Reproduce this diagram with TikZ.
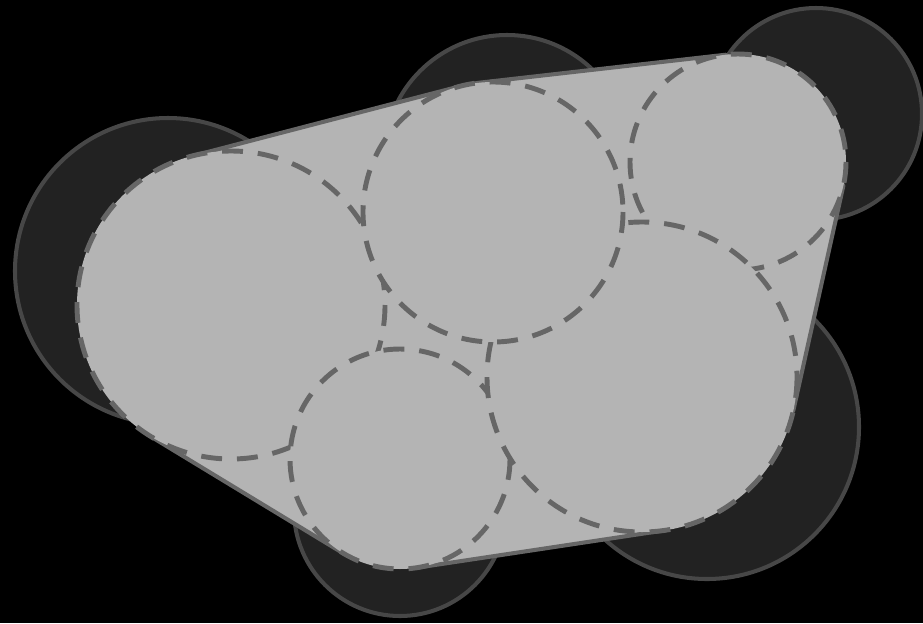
\documentclass[tikz,border=0pt]{standalone}
\usepackage{tikz}
\definecolor{backdrop}{HTML}{000000}
\definecolor{discfill}{HTML}{222222}
\definecolor{discedge}{HTML}{474747}
\definecolor{hullfill}{HTML}{B4B4B4}
\definecolor{hulledge}{HTML}{666666}
\tikzset{
  outerdisc/.style={fill=discfill, draw=discedge, line width=2.3pt},
  hullpoly/.style={fill=hullfill, draw=hulledge, line width=2.3pt, line join=round},
  innerdisc/.style={fill=hullfill, draw=hulledge, line width=2.8pt,
    dash pattern=on 11.9pt off 8.5pt}
}

\begin{document}
\begin{tikzpicture}[x=0.02cm, y=-0.02cm]

  % ---- Canvas --------------------------------------------------------------
  \useasboundingbox (0, 0) rectangle (923, 623);
  \fill[backdrop] (0, 0) rectangle (923, 623);

  % ---- Dark discs behind ---------------------------------------------------
  \draw[outerdisc] (168, 271) circle (153);
  \draw[outerdisc] (507, 158) circle (123);
  \draw[outerdisc] (816, 114) circle (106);
  \draw[outerdisc] (707, 427) circle (152);
  \draw[outerdisc] (400, 510) circle (106);

  % ---- Hull (tangent segments between the dashed discs) -------------------
  \draw[hullpoly] (192.2, 156.0) -- (460.2, 86.2) -- (478.3, 82.8)
    -- (725.8, 54.7) -- (843.4, 185.5) -- (793.3, 410.7)
    -- (665.1, 530.3) -- (416.4, 567.8) -- (342.9, 553.1)
    -- (151.1, 436.7) -- cycle;

  % ---- Light discs, each one hides the arcs of those below it -------------
  \foreach \cx/\cy/\rr in {231/305/154, 400/459/110, 738/162/108,
                           642/377/155, 493/212/130}
    \filldraw[innerdisc] (\cx, \cy) circle (\rr);

\end{tikzpicture}
\end{document}
